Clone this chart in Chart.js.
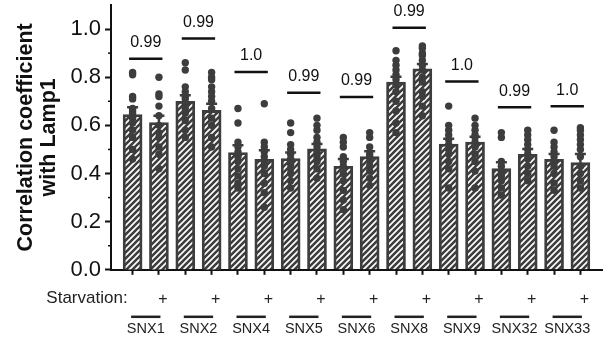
<!DOCTYPE html>
<html>
<head>
<meta charset="UTF-8">
<title>Correlation coefficient with Lamp1</title>
<script src="https://cdn.jsdelivr.net/npm/chart.js"></script>
<style>
  body { margin: 0; background: #fff; }
  #wrap { width: 611px; height: 341px; position: relative; }
</style>
</head>
<body>
<div id="wrap"><canvas id="chart"></canvas></div>
<script>
// groups (each has a "-" and a "+" starvation bar)
const groups = ['SNX1', 'SNX2', 'SNX4', 'SNX5', 'SNX6', 'SNX8', 'SNX9', 'SNX32', 'SNX33'];
const starvation = ['', '+', '', '+', '', '+', '', '+', '', '+', '', '+', '', '+', '', '+', '', '+'];

// bar means and SEM, one per bar
const means = [0.645, 0.612, 0.700, 0.662, 0.487, 0.459, 0.462, 0.503, 0.430, 0.470,
               0.780, 0.835, 0.522, 0.531, 0.420, 0.480, 0.459, 0.445];
const sems  = [0.030, 0.028, 0.025, 0.028, 0.030, 0.038, 0.025, 0.020, 0.030, 0.022,
               0.022, 0.020, 0.022, 0.022, 0.027, 0.022, 0.022, 0.036];

// individual cell values per bar
const points = [
  [0.82, 0.81, 0.72, 0.71, 0.67, 0.66, 0.65, 0.63, 0.61, 0.58, 0.55, 0.50, 0.46],
  [0.80, 0.73, 0.72, 0.68, 0.64, 0.60, 0.57, 0.55, 0.51, 0.48, 0.42],
  [0.86, 0.83, 0.76, 0.74, 0.72, 0.71, 0.69, 0.67, 0.65, 0.62, 0.58, 0.55],
  [0.82, 0.80, 0.79, 0.76, 0.74, 0.72, 0.70, 0.67, 0.63, 0.60, 0.55, 0.51],
  [0.67, 0.61, 0.53, 0.51, 0.49, 0.47, 0.45, 0.42, 0.39, 0.36, 0.34],
  [0.69, 0.53, 0.51, 0.49, 0.47, 0.45, 0.43, 0.40, 0.36, 0.32, 0.26],
  [0.61, 0.57, 0.52, 0.50, 0.48, 0.46, 0.44, 0.42, 0.40, 0.37, 0.34],
  [0.63, 0.60, 0.58, 0.55, 0.53, 0.51, 0.49, 0.47, 0.45, 0.42, 0.38],
  [0.55, 0.53, 0.51, 0.47, 0.45, 0.43, 0.40, 0.37, 0.33, 0.29, 0.25],
  [0.57, 0.55, 0.51, 0.48, 0.47, 0.45, 0.43, 0.41, 0.38, 0.35],
  [0.91, 0.87, 0.85, 0.83, 0.81, 0.79, 0.77, 0.74, 0.70, 0.66, 0.61, 0.57],
  [0.93, 0.92, 0.90, 0.89, 0.87, 0.85, 0.83, 0.80, 0.78, 0.74, 0.72, 0.68, 0.64],
  [0.68, 0.60, 0.58, 0.56, 0.54, 0.52, 0.50, 0.48, 0.45, 0.42, 0.34],
  [0.63, 0.60, 0.58, 0.56, 0.55, 0.53, 0.51, 0.48, 0.45, 0.41, 0.34],
  [0.57, 0.55, 0.45, 0.43, 0.41, 0.39, 0.37, 0.34, 0.31],
  [0.58, 0.56, 0.54, 0.52, 0.50, 0.48, 0.46, 0.43, 0.40, 0.37],
  [0.58, 0.53, 0.51, 0.49, 0.47, 0.45, 0.43, 0.40, 0.36, 0.33],
  [0.59, 0.58, 0.56, 0.54, 0.52, 0.50, 0.47, 0.43, 0.40, 0.37, 0.34]
];

// p values per group and the height of their bracket line
const pValues = ['0.99', '0.99', '1.0', '0.99', '0.99', '0.99', '1.0', '0.99', '1.0'];
const pLineY  = [0.877, 0.961, 0.822, 0.735, 0.718, 1.005, 0.782, 0.675, 0.679];

const yTicks = [0, 0.1, 0.2, 0.3, 0.4, 0.5, 0.6, 0.7, 0.8, 0.9, 1.0];

const FONT = "'Liberation Sans', Arial, Helvetica, sans-serif";
const DARK = '#3d3d3d';

// hatch pattern for the bars
function makeHatch() {
  const c = document.createElement('canvas');
  c.width = 6; c.height = 6;
  const g = c.getContext('2d');
  g.fillStyle = '#fff';
  g.fillRect(0, 0, 6, 6);
  g.strokeStyle = DARK;
  g.lineWidth = 2.6;
  g.beginPath();
  g.moveTo(-1, 7); g.lineTo(7, -1);
  g.moveTo(-1, 1); g.lineTo(1, -1);
  g.moveTo(5, 7); g.lineTo(7, 5);
  g.stroke();
  return g.createPattern(c, 'repeat');
}

const barData = means.map((m, i) => ({ x: i, y: m }));
const dotData = [];
points.forEach((arr, i) => arr.forEach(v => dotData.push({ x: i, y: v })));

const extras = {
  id: 'extras',
  afterDatasetDraw(chart, args) {
    if (args.index !== 0) return;
    // error bars (upper half) on top of bars
    const ctx = chart.ctx, xs = chart.scales.x, ys = chart.scales.y;
    ctx.save();
    ctx.strokeStyle = DARK;
    ctx.lineWidth = 2.5;
    means.forEach((m, i) => {
      const x = xs.getPixelForValue(i);
      const y0 = ys.getPixelForValue(m);
      const y1 = ys.getPixelForValue(m + sems[i]);
      ctx.beginPath();
      ctx.moveTo(x, y0); ctx.lineTo(x, y1);
      ctx.moveTo(x - 5.5, y1); ctx.lineTo(x + 5.5, y1);
      ctx.stroke();
    });
    ctx.restore();
  },
  afterDraw(chart) {
    const ctx = chart.ctx, xs = chart.scales.x, ys = chart.scales.y;
    const bottom = chart.chartArea.bottom;
    ctx.save();
    // minor y ticks
    ctx.strokeStyle = '#111';
    ctx.lineWidth = 1.5;
    yTicks.forEach(v => {
      if (Math.round(v * 10) % 2 === 1) {
        const y = ys.getPixelForValue(v);
        ctx.beginPath();
        ctx.moveTo(ys.right - 3, y); ctx.lineTo(ys.right, y);
        ctx.stroke();
      }
    });
    // p value brackets
    ctx.fillStyle = '#111';
    ctx.strokeStyle = '#111';
    ctx.lineWidth = 2.5;
    ctx.font = '16px ' + FONT;
    ctx.textAlign = 'center';
    ctx.textBaseline = 'middle';
    groups.forEach((g, k) => {
      const xa = xs.getPixelForValue(2 * k) - 3.5;
      const xb = xs.getPixelForValue(2 * k + 1) + 3.5;
      const y = ys.getPixelForValue(pLineY[k]);
      ctx.beginPath();
      ctx.moveTo(xa, y); ctx.lineTo(xb, y);
      ctx.stroke();
      ctx.fillText(pValues[k], (xa + xb) / 2, y - 16);
    });
    // starvation row label
    ctx.fillStyle = '#222';
    ctx.font = '17px ' + FONT;
    ctx.textAlign = 'right';
    ctx.fillText('Starvation:', xs.getPixelForValue(0) - 5, bottom + 29);
    // group labels with overline
    ctx.font = '14.5px ' + FONT;
    ctx.textAlign = 'center';
    ctx.lineWidth = 2.5;
    ctx.strokeStyle = '#222';
    groups.forEach((g, k) => {
      const xa = xs.getPixelForValue(2 * k) - 1.5;
      const xb = xs.getPixelForValue(2 * k + 1) + 1.5;
      ctx.beginPath();
      ctx.moveTo(xa, bottom + 47); ctx.lineTo(xb, bottom + 47);
      ctx.stroke();
      ctx.fillText(g, (xa + xb) / 2, bottom + 59);
    });
    ctx.restore();
  }
};

new Chart(document.getElementById('chart'), {
  type: 'bar',
  data: {
    datasets: [
      {
        type: 'bar',
        data: barData,
        backgroundColor: makeHatch(),
        borderColor: DARK,
        borderWidth: 2.8,
        barThickness: 19,
        order: 2
      },
      {
        type: 'scatter',
        data: dotData,
        backgroundColor: DARK,
        borderWidth: 0,
        pointRadius: 3.7,
        order: 1
      }
    ]
  },
  plugins: [extras],
  options: {
    responsive: true,
    maintainAspectRatio: false,
    animation: false,
    layout: { padding: { left: 14, right: 9, top: 5, bottom: 17 } },
    plugins: { legend: { display: false }, tooltip: { enabled: false } },
    scales: {
      x: {
        type: 'linear',
        offset: false,
        min: -0.82,
        max: 17.82,
        afterBuildTicks: scale => { scale.ticks = starvation.map((s, i) => ({ value: i })); },
        ticks: {
          autoSkip: false,
          maxRotation: 0,
          padding: 15,
          labelOffset: 4,
          color: '#222',
          font: { family: FONT, size: 16 },
          callback: v => starvation[v]
        },
        grid: { offset: false, drawOnChartArea: false, drawTicks: true, tickLength: 5, tickWidth: 2, tickColor: '#111' },
        border: { display: true, color: '#111', width: 2 }
      },
      y: {
        min: 0,
        max: 1.1,
        afterBuildTicks: scale => { scale.ticks = yTicks.map(v => ({ value: v })); },
        afterFit: scale => {
          scale.width = 97;
          scale.paddingTop = 0;
          scale.paddingBottom = 0;
        },
        ticks: {
          padding: 4,
          color: '#111',
          font: { family: FONT, size: 22 },
          callback: v => (Math.round(v * 10) % 2 === 0 ? v.toFixed(1) : '')
        },
        grid: {
          drawOnChartArea: false,
          tickLength: 6,
          tickWidth: 2,
          tickColor: ctx => (Math.round(ctx.tick.value * 10) % 2 === 0 ? '#111' : 'rgba(0,0,0,0)')
        },
        border: { display: true, color: '#111', width: 2 },
        title: {
          display: true,
          text: ['Correlation coefficient', 'with Lamp1'],
          color: '#111',
          font: { family: FONT, size: 21.5, weight: 'bold', lineHeight: 1.1 },
          padding: { top: 0, bottom: 4 }
        }
      }
    }
  }
});
</script>
</body>
</html>
